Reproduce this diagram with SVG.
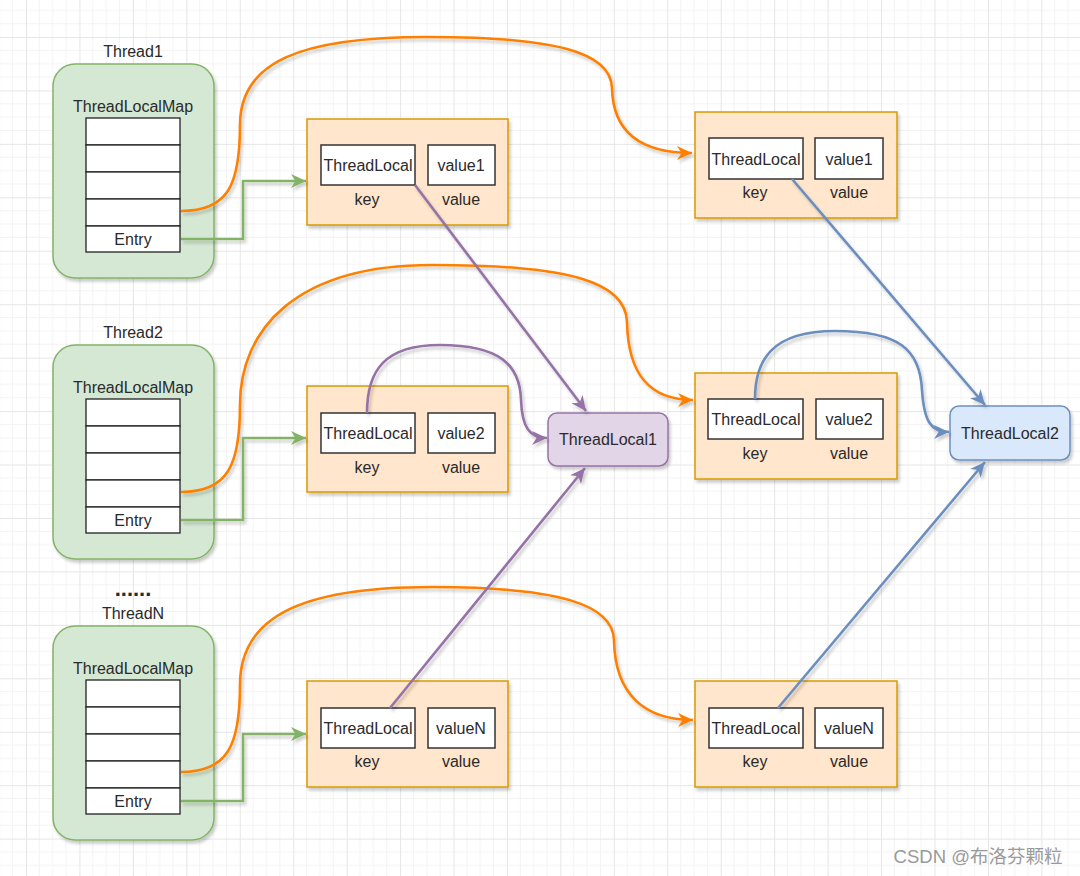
<svg xmlns="http://www.w3.org/2000/svg" width="1080" height="876" viewBox="0 0 1080 876">
<defs>
<pattern id="grid" patternUnits="userSpaceOnUse" x="26" y="37" width="53.44" height="53.44">
<path d="M13.36,0V53.44M26.72,0V53.44M40.08,0V53.44M0,13.36H53.44M0,26.72H53.44M0,40.08H53.44" stroke="#f3f3f3" stroke-width="1" fill="none"/>
<path d="M0.5,0V53.44M0,0.5H53.44" stroke="#e6e6e6" stroke-width="1" fill="none"/>
</pattern>
<filter id="sh" x="-10%" y="-10%" width="130%" height="130%">
<feDropShadow dx="2" dy="3" stdDeviation="1.5" flood-color="#000" flood-opacity="0.2"/>
</filter>
<marker id="aO" markerUnits="userSpaceOnUse" markerWidth="18" markerHeight="18" refX="15" refY="7" orient="auto"><path d="M0,0 L15,7 L0,14 L4.5,7 Z" fill="#ff8000"/></marker>
<marker id="aG" markerUnits="userSpaceOnUse" markerWidth="18" markerHeight="18" refX="15" refY="7" orient="auto"><path d="M0,0 L15,7 L0,14 L4.5,7 Z" fill="#82b366"/></marker>
<marker id="aP" markerUnits="userSpaceOnUse" markerWidth="18" markerHeight="18" refX="15" refY="7" orient="auto"><path d="M0,0 L15,7 L0,14 L4.5,7 Z" fill="#9673a6"/></marker>
<marker id="aB" markerUnits="userSpaceOnUse" markerWidth="18" markerHeight="18" refX="15" refY="7" orient="auto"><path d="M0,0 L15,7 L0,14 L4.5,7 Z" fill="#6c8ebf"/></marker>
</defs>
<style>
text{font-family:"Liberation Sans",Arial,sans-serif;font-size:16px;fill:#2a2a2a;text-anchor:middle}
.thread{fill:#d5e8d4;stroke:#82b366;stroke-width:1.5}
.row{fill:#fff;stroke:#222;stroke-width:1.3}
.ebox{fill:#ffe6cc;stroke:#d79b00;stroke-width:1.5}
.cell{fill:#fff;stroke:#333;stroke-width:1.5}
.tl1{fill:#e1d5e7;stroke:#9673a6;stroke-width:1.5}
.tl2{fill:#dae8fc;stroke:#6c8ebf;stroke-width:1.5}
.c{fill:none;stroke-width:2.6}
.o{stroke:#ff8000;marker-end:url(#aO)}
.g{stroke:#82b366;marker-end:url(#aG)}
.p{stroke:#9673a6;marker-end:url(#aP)}
.b{stroke:#6c8ebf;marker-end:url(#aB)}
</style>
<rect width="1080" height="876" fill="#fff"/>
<rect width="1080" height="876" fill="url(#grid)"/>

<g id="thread1">
<text x="133" y="57">Thread1</text>
<rect class="thread" x="53" y="64" width="161" height="214" rx="22" filter="url(#sh)"/>
<text x="133" y="112">ThreadLocalMap</text>
<rect class="row" x="86" y="118" width="94" height="27"/>
<rect class="row" x="86" y="145" width="94" height="27"/>
<rect class="row" x="86" y="172" width="94" height="27"/>
<rect class="row" x="86" y="199" width="94" height="27"/>
<rect class="row" x="86" y="226" width="94" height="26"/>
<text x="133" y="245">Entry</text>
</g>
<g id="thread2">
<text x="133" y="338">Thread2</text>
<rect class="thread" x="53" y="345" width="161" height="214" rx="22" filter="url(#sh)"/>
<text x="133" y="393">ThreadLocalMap</text>
<rect class="row" x="86" y="399" width="94" height="27"/>
<rect class="row" x="86" y="426" width="94" height="27"/>
<rect class="row" x="86" y="453" width="94" height="27"/>
<rect class="row" x="86" y="480" width="94" height="27"/>
<rect class="row" x="86" y="507" width="94" height="26"/>
<text x="133" y="526">Entry</text>
</g>
<g id="dots">
<text x="133" y="596" style="font-size:22px;font-weight:bold">......</text>
</g>
<g id="threadN">
<text x="133" y="619">ThreadN</text>
<rect class="thread" x="53" y="626" width="161" height="214" rx="22" filter="url(#sh)"/>
<text x="133" y="674">ThreadLocalMap</text>
<rect class="row" x="86" y="680" width="94" height="27"/>
<rect class="row" x="86" y="707" width="94" height="27"/>
<rect class="row" x="86" y="734" width="94" height="27"/>
<rect class="row" x="86" y="761" width="94" height="27"/>
<rect class="row" x="86" y="788" width="94" height="26"/>
<text x="133" y="807">Entry</text>
</g>

<g id="entry1">
<rect class="ebox" x="307" y="119" width="201" height="106" filter="url(#sh)"/>
<rect class="cell" x="321" y="145" width="94" height="40"/>
<text x="368" y="171">ThreadLocal</text>
<rect class="cell" x="428" y="145" width="67" height="40"/>
<text x="461" y="171">value1</text>
<text x="367" y="205">key</text>
<text x="461" y="205">value</text>
</g>
<g id="entry2">
<rect class="ebox" x="307" y="386" width="201" height="106" filter="url(#sh)"/>
<rect class="cell" x="321" y="413" width="94" height="40"/>
<text x="368" y="439">ThreadLocal</text>
<rect class="cell" x="428" y="413" width="67" height="40"/>
<text x="461" y="439">value2</text>
<text x="367" y="473">key</text>
<text x="461" y="473">value</text>
</g>
<g id="entryN">
<rect class="ebox" x="307" y="681" width="201" height="106" filter="url(#sh)"/>
<rect class="cell" x="321" y="708" width="94" height="40"/>
<text x="368" y="734">ThreadLocal</text>
<rect class="cell" x="428" y="708" width="67" height="40"/>
<text x="461" y="734">valueN</text>
<text x="367" y="767">key</text>
<text x="461" y="767">value</text>
</g>

<g id="rentry1">
<rect class="ebox" x="695" y="112" width="202" height="106" filter="url(#sh)"/>
<rect class="cell" x="709" y="138" width="94" height="41"/>
<text x="756" y="165">ThreadLocal</text>
<rect class="cell" x="815" y="138" width="68" height="41"/>
<text x="849" y="165">value1</text>
<text x="755" y="198">key</text>
<text x="849" y="198">value</text>
</g>
<g id="rentry2">
<rect class="ebox" x="695" y="373" width="202" height="106" filter="url(#sh)"/>
<rect class="cell" x="708" y="399" width="95" height="40"/>
<text x="756" y="425">ThreadLocal</text>
<rect class="cell" x="816" y="399" width="67" height="40"/>
<text x="849" y="425">value2</text>
<text x="755" y="459">key</text>
<text x="849" y="459">value</text>
</g>
<g id="rentryN">
<rect class="ebox" x="695" y="681" width="202" height="106" filter="url(#sh)"/>
<rect class="cell" x="709" y="708" width="94" height="40"/>
<text x="756" y="734">ThreadLocal</text>
<rect class="cell" x="815" y="708" width="68" height="40"/>
<text x="849" y="734">valueN</text>
<text x="755" y="767">key</text>
<text x="849" y="767">value</text>
</g>

<g id="threadlocal1">
<rect class="tl1" x="548" y="413" width="120" height="53" rx="9" filter="url(#sh)"/>
<text x="608" y="445">ThreadLocal1</text>
</g>
<g id="threadlocal2">
<rect class="tl2" x="950" y="406" width="120" height="54" rx="9" filter="url(#sh)"/>
<text x="1010" y="439">ThreadLocal2</text>
</g>

<g id="connectors" filter="url(#sh)">
<path class="c g" d="M181,239 H243 V181 H306"/>
<path class="c g" d="M181,520 H243 V438 H306"/>
<path class="c g" d="M181,801 H243 V734 H306"/>
<path class="c o" d="M181,211 C228,211 240,185 240,125 C240,62 300,37 427,37 C555,37 611,52 612,88 C613,132 640,153 692,153"/>
<path class="c o" d="M181,492 C228,492 240,465 240,405 C240,330 295,265 432,265 C570,265 626,282 627,322 C628,375 650,400 693,400"/>
<path class="c o" d="M181,772 C228,772 240,745 240,685 C240,620 295,587 432,587 C560,587 613,605 614,640 C615,695 645,720 693,720"/>
<path class="c p" d="M415,185 L586,411"/>
<path class="c p" d="M390,708 L585,468"/>
<path class="c p" d="M367,413 C367,370 385,345 440,345 C500,345 520,365 521,400 C522,428 530,438 547,438"/>
<path class="c b" d="M792,179 L985,405"/>
<path class="c b" d="M778,708 L985,462"/>
<path class="c b" d="M755,399 C755,360 772,331 835,331 C900,331 920,350 922,390 C924,420 930,432 949,432"/>
</g>

<text x="978" y="863" style="font-size:18.5px;fill:#9a9a9a;font-family:'Liberation Sans','Noto Sans CJK SC',sans-serif">CSDN @布洛芬颗粒</text>
</svg>
